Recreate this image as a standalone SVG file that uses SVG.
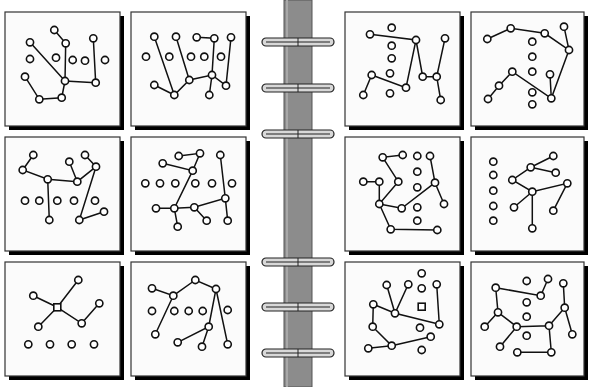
<svg xmlns="http://www.w3.org/2000/svg" width="592" height="387" viewBox="0 0 592 387">
<style>
.shadow{fill:#000}
.panel{fill:#fbfbfb;stroke:#333;stroke-width:1.2}
.e{stroke:#111;stroke-width:1.5;fill:none}
.n{fill:#fff;stroke:#111;stroke-width:1.6}
.ring{fill:#d8d8d8;stroke:#222;stroke-width:1.2}
.ringl{stroke:#222;stroke-width:1;fill:none}
</style>
<defs>
<g id="ringshape">
<rect class="ring" x="262" y="-4" width="72" height="8" rx="4"/>
<line class="ringl" x1="266" y1="0" x2="330" y2="0" stroke="#fff"/>
<line class="ringl" x1="298" y1="-4" x2="298" y2="4"/>
</g>
</defs>
<rect width="592" height="387" fill="#fff"/>

<g id="spine">
<rect x="284" y="0" width="28" height="387" fill="#8c8c8c" stroke="#555" stroke-width="1"/>
<line x1="287" y1="0" x2="287" y2="387" stroke="#a8a8a8" stroke-width="2"/>
<use href="#ringshape" y="42"/>
<use href="#ringshape" y="88"/>
<use href="#ringshape" y="134"/>
<use href="#ringshape" y="262"/>
<use href="#ringshape" y="307"/>
<use href="#ringshape" y="353"/>
</g>

<g id="panels">
<rect class="shadow" x="9" y="16" width="115" height="114"/><rect class="panel" x="5" y="12" width="115" height="114"/>
<rect class="shadow" x="135" y="16" width="115" height="114"/><rect class="panel" x="131" y="12" width="115" height="114"/>
<rect class="shadow" x="349" y="16" width="115" height="114"/><rect class="panel" x="345" y="12" width="115" height="114"/>
<rect class="shadow" x="475" y="16" width="113" height="114"/><rect class="panel" x="471" y="12" width="113" height="114"/>
<rect class="shadow" x="9" y="141" width="115" height="114"/><rect class="panel" x="5" y="137" width="115" height="114"/>
<rect class="shadow" x="135" y="141" width="115" height="114"/><rect class="panel" x="131" y="137" width="115" height="114"/>
<rect class="shadow" x="349" y="141" width="115" height="114"/><rect class="panel" x="345" y="137" width="115" height="114"/>
<rect class="shadow" x="475" y="141" width="113" height="114"/><rect class="panel" x="471" y="137" width="113" height="114"/>
<rect class="shadow" x="9" y="266" width="115" height="114"/><rect class="panel" x="5" y="262" width="115" height="114"/>
<rect class="shadow" x="135" y="266" width="115" height="114"/><rect class="panel" x="131" y="262" width="115" height="114"/>
<rect class="shadow" x="349" y="266" width="115" height="114"/><rect class="panel" x="345" y="262" width="115" height="114"/>
<rect class="shadow" x="475" y="266" width="113" height="114"/><rect class="panel" x="471" y="262" width="113" height="114"/>
</g>

<g id="connectors">
<path class="e" d="M54.3,30L65.7,43.3L65,81M30,42.3L65,81M93.3,38.3L95.7,82.7M65,81L95.7,82.7M65,81L61.7,97.7L39.3,99.3L25,76.7"/>
<path class="e" d="M196.7,37.3L214.3,38.3L212,75M154.3,36.7L174.3,95M176,36.7L189.3,80M231,37.3L226,85.7M154.3,85L174.3,95L189.3,80L212,75L226,85.7M212,75L209.3,95"/>
<path class="e" d="M370,34.3L416,40L406,87.7L371.7,75L363.3,95M416,40L422.7,76.7L436.7,76.7L445,38.3M436.7,76.7L440.7,100"/>
<path class="e" d="M487.3,39L510.7,28.3L544.7,33.3L569,50L564,26.7M569,50L551.3,98.3L512.3,71.7L499,85.7L488,99M550,74.3L551.3,98.3"/>
<path class="e" d="M33.3,155L22.7,170L47.7,179.3L77.3,181.7L96,166.7L85,155M69.3,161.7L77.3,181.7M47.7,179.3L49.3,220M96,166.7L79.3,220L104,211.7"/>
<path class="e" d="M178.7,156L200,153.3L192.7,170.7L162.7,163.3M192.7,170.7L174.3,208.3L156,208.3M174.3,208.3L177.7,226.7M174.3,208.3L194.3,207.3L225.3,198.3L220.3,155M194.3,207.3L206.7,220.7M225.3,198.3L227.7,220.7"/>
<path class="e" d="M402.7,155L382.7,157.3L398.3,181.7L379.3,204L379.3,181.7L363.3,181.7M379.3,204L401.7,208.3L435,182.7L430,156M435,182.7L444,204M379.3,204L390.7,229.3L437.3,230"/>
<path class="e" d="M553.3,156L530.7,167.3L555.7,172.7M530.7,167.3L512.3,180L532.3,191.7L567.3,183.3L553.3,210.7M532.3,191.7L514,207.3M532.3,191.7L532.3,228.3"/>
<path class="e" d="M57.3,307.3L78.3,280M57.3,307.3L33.3,295.7M57.3,307.3L38.3,326.7M57.3,307.3L81.7,323.3L99.3,303.3"/>
<path class="e" d="M152,288.3L173.3,295.7L195.3,280L216,289L208.7,326.7L177.7,342.3M173.3,295.7L155.3,334.3M216,289L227.7,344.3M208.7,326.7L202,346.7"/>
<path class="e" d="M386.7,285L395,313.3L408.3,284.3M373.3,304.3L395,313.3L439.3,324.3L436.7,284.3M373.3,304.3L372.7,326.7L391.7,345.7L368.3,348.3M391.7,345.7L430.7,336.7"/>
<path class="e" d="M548,279L540.7,295.7L495.7,287.7L498,312.3L516.7,326.7L549,325.7L564.7,307.7L563.3,283.3M498,312.3L484.7,326.7M516.7,326.7L500,346.7M564.7,307.7L572.3,334.3M549,325.7L551.3,352.3L517.3,352.3"/>
</g>

<g id="nodes">
<g id="p1">
<circle class="n" cx="54.3" cy="30" r="3.6"/><circle class="n" cx="30" cy="42.3" r="3.6"/><circle class="n" cx="65.7" cy="43.3" r="3.6"/><circle class="n" cx="93.3" cy="38.3" r="3.6"/><circle class="n" cx="30" cy="59" r="3.6"/><circle class="n" cx="56" cy="57.7" r="3.6"/><circle class="n" cx="72.7" cy="60" r="3.6"/><circle class="n" cx="85" cy="60.7" r="3.6"/><circle class="n" cx="105" cy="60" r="3.6"/><circle class="n" cx="25" cy="76.7" r="3.6"/><circle class="n" cx="65" cy="81" r="3.6"/><circle class="n" cx="95.7" cy="82.7" r="3.6"/><circle class="n" cx="39.3" cy="99.3" r="3.6"/><circle class="n" cx="61.7" cy="97.7" r="3.6"/>
</g>
<g id="p2">
<circle class="n" cx="154.3" cy="36.7" r="3.6"/><circle class="n" cx="176" cy="36.7" r="3.6"/><circle class="n" cx="196.7" cy="37.3" r="3.6"/><circle class="n" cx="214.3" cy="38.3" r="3.6"/><circle class="n" cx="231" cy="37.3" r="3.6"/><circle class="n" cx="146" cy="56.7" r="3.6"/><circle class="n" cx="169.3" cy="56.7" r="3.6"/><circle class="n" cx="191" cy="56.7" r="3.6"/><circle class="n" cx="204.3" cy="56.7" r="3.6"/><circle class="n" cx="221" cy="56.7" r="3.6"/><circle class="n" cx="154.3" cy="85" r="3.6"/><circle class="n" cx="189.3" cy="80" r="3.6"/><circle class="n" cx="212" cy="75" r="3.6"/><circle class="n" cx="226" cy="85.7" r="3.6"/><circle class="n" cx="174.3" cy="95" r="3.6"/><circle class="n" cx="209.3" cy="95" r="3.6"/>
</g>
<g id="p3">
<circle class="n" cx="391.7" cy="27.7" r="3.6"/><circle class="n" cx="370" cy="34.3" r="3.6"/><circle class="n" cx="416" cy="40" r="3.6"/><circle class="n" cx="445" cy="38.3" r="3.6"/><circle class="n" cx="391.7" cy="45.7" r="3.6"/><circle class="n" cx="391.7" cy="58.3" r="3.6"/><circle class="n" cx="390" cy="73.3" r="3.6"/><circle class="n" cx="371.7" cy="75" r="3.6"/><circle class="n" cx="422.7" cy="76.7" r="3.6"/><circle class="n" cx="436.7" cy="76.7" r="3.6"/><circle class="n" cx="406" cy="87.7" r="3.6"/><circle class="n" cx="363.3" cy="95" r="3.6"/><circle class="n" cx="390" cy="93.3" r="3.6"/><circle class="n" cx="440.7" cy="100" r="3.6"/>
</g>
<g id="p4">
<circle class="n" cx="487.3" cy="39" r="3.6"/><circle class="n" cx="510.7" cy="28.3" r="3.6"/><circle class="n" cx="544.7" cy="33.3" r="3.6"/><circle class="n" cx="564" cy="26.7" r="3.6"/><circle class="n" cx="569" cy="50" r="3.6"/><circle class="n" cx="532.3" cy="41.7" r="3.6"/><circle class="n" cx="532.3" cy="56.7" r="3.6"/><circle class="n" cx="532.3" cy="71.7" r="3.6"/><circle class="n" cx="512.3" cy="71.7" r="3.6"/><circle class="n" cx="550" cy="74.3" r="3.6"/><circle class="n" cx="499" cy="85.7" r="3.6"/><circle class="n" cx="532.3" cy="92.3" r="3.6"/><circle class="n" cx="551.3" cy="98.3" r="3.6"/><circle class="n" cx="488" cy="99" r="3.6"/><circle class="n" cx="532.3" cy="104.3" r="3.6"/>
</g>
<g id="p5">
<circle class="n" cx="33.3" cy="155" r="3.6"/><circle class="n" cx="22.7" cy="170" r="3.6"/><circle class="n" cx="47.7" cy="179.3" r="3.6"/><circle class="n" cx="69.3" cy="161.7" r="3.6"/><circle class="n" cx="85" cy="155" r="3.6"/><circle class="n" cx="96" cy="166.7" r="3.6"/><circle class="n" cx="77.3" cy="181.7" r="3.6"/><circle class="n" cx="25" cy="200.7" r="3.6"/><circle class="n" cx="39.3" cy="200.7" r="3.6"/><circle class="n" cx="57.3" cy="200.7" r="3.6"/><circle class="n" cx="74" cy="200.7" r="3.6"/><circle class="n" cx="95" cy="200.7" r="3.6"/><circle class="n" cx="49.3" cy="220" r="3.6"/><circle class="n" cx="79.3" cy="220" r="3.6"/><circle class="n" cx="104" cy="211.7" r="3.6"/>
</g>
<g id="p6">
<circle class="n" cx="178.7" cy="156" r="3.6"/><circle class="n" cx="200" cy="153.3" r="3.6"/><circle class="n" cx="162.7" cy="163.3" r="3.6"/><circle class="n" cx="192.7" cy="170.7" r="3.6"/><circle class="n" cx="220.3" cy="155" r="3.6"/><circle class="n" cx="145.3" cy="183.3" r="3.6"/><circle class="n" cx="160" cy="183.3" r="3.6"/><circle class="n" cx="175.3" cy="183.3" r="3.6"/><circle class="n" cx="195.3" cy="183.3" r="3.6"/><circle class="n" cx="212" cy="183.3" r="3.6"/><circle class="n" cx="232" cy="183.3" r="3.6"/><circle class="n" cx="225.3" cy="198.3" r="3.6"/><circle class="n" cx="156" cy="208.3" r="3.6"/><circle class="n" cx="174.3" cy="208.3" r="3.6"/><circle class="n" cx="194.3" cy="207.3" r="3.6"/><circle class="n" cx="206.7" cy="220.7" r="3.6"/><circle class="n" cx="227.7" cy="220.7" r="3.6"/><circle class="n" cx="177.7" cy="226.7" r="3.6"/>
</g>
<g id="p7">
<circle class="n" cx="382.7" cy="157.3" r="3.6"/><circle class="n" cx="402.7" cy="155" r="3.6"/><circle class="n" cx="417.3" cy="156" r="3.6"/><circle class="n" cx="430" cy="156" r="3.6"/><circle class="n" cx="417.3" cy="171.7" r="3.6"/><circle class="n" cx="363.3" cy="181.7" r="3.6"/><circle class="n" cx="379.3" cy="181.7" r="3.6"/><circle class="n" cx="398.3" cy="181.7" r="3.6"/><circle class="n" cx="417.3" cy="187.3" r="3.6"/><circle class="n" cx="435" cy="182.7" r="3.6"/><circle class="n" cx="379.3" cy="204" r="3.6"/><circle class="n" cx="401.7" cy="208.3" r="3.6"/><circle class="n" cx="417.3" cy="207.3" r="3.6"/><circle class="n" cx="444" cy="204" r="3.6"/><circle class="n" cx="417.3" cy="220.7" r="3.6"/><circle class="n" cx="390.7" cy="229.3" r="3.6"/><circle class="n" cx="437.3" cy="230" r="3.6"/>
</g>
<g id="p8">
<circle class="n" cx="493.3" cy="161.7" r="3.6"/><circle class="n" cx="493.3" cy="175" r="3.6"/><circle class="n" cx="493.3" cy="190.7" r="3.6"/><circle class="n" cx="493.3" cy="206" r="3.6"/><circle class="n" cx="493.3" cy="220.7" r="3.6"/><circle class="n" cx="553.3" cy="156" r="3.6"/><circle class="n" cx="530.7" cy="167.3" r="3.6"/><circle class="n" cx="555.7" cy="172.7" r="3.6"/><circle class="n" cx="512.3" cy="180" r="3.6"/><circle class="n" cx="567.3" cy="183.3" r="3.6"/><circle class="n" cx="532.3" cy="191.7" r="3.6"/><circle class="n" cx="514" cy="207.3" r="3.6"/><circle class="n" cx="553.3" cy="210.7" r="3.6"/><circle class="n" cx="532.3" cy="228.3" r="3.6"/>
</g>
<g id="p9">
<circle class="n" cx="78.3" cy="280" r="3.6"/><circle class="n" cx="33.3" cy="295.7" r="3.6"/><rect class="n" x="53.8" y="303.8" width="7" height="7"/><circle class="n" cx="99.3" cy="303.3" r="3.6"/><circle class="n" cx="81.7" cy="323.3" r="3.6"/><circle class="n" cx="38.3" cy="326.7" r="3.6"/><circle class="n" cx="28.3" cy="344.3" r="3.6"/><circle class="n" cx="50" cy="344.3" r="3.6"/><circle class="n" cx="71.7" cy="344.3" r="3.6"/><circle class="n" cx="94" cy="344.3" r="3.6"/>
</g>
<g id="p10">
<circle class="n" cx="152" cy="288.3" r="3.6"/><circle class="n" cx="173.3" cy="295.7" r="3.6"/><circle class="n" cx="195.3" cy="280" r="3.6"/><circle class="n" cx="216" cy="289" r="3.6"/><circle class="n" cx="152" cy="311" r="3.6"/><circle class="n" cx="174.3" cy="311" r="3.6"/><circle class="n" cx="188.7" cy="311" r="3.6"/><circle class="n" cx="202.7" cy="311" r="3.6"/><circle class="n" cx="227.7" cy="310" r="3.6"/><circle class="n" cx="208.7" cy="326.7" r="3.6"/><circle class="n" cx="155.3" cy="334.3" r="3.6"/><circle class="n" cx="177.7" cy="342.3" r="3.6"/><circle class="n" cx="202" cy="346.7" r="3.6"/><circle class="n" cx="227.7" cy="344.3" r="3.6"/>
</g>
<g id="p11">
<circle class="n" cx="421.7" cy="273.3" r="3.6"/><circle class="n" cx="386.7" cy="285" r="3.6"/><circle class="n" cx="408.3" cy="284.3" r="3.6"/><circle class="n" cx="421.7" cy="288.3" r="3.6"/><circle class="n" cx="436.7" cy="284.3" r="3.6"/><circle class="n" cx="373.3" cy="304.3" r="3.6"/><rect class="n" x="418.2" y="303.2" width="7" height="7"/><circle class="n" cx="395" cy="313.3" r="3.6"/><circle class="n" cx="439.3" cy="324.3" r="3.6"/><circle class="n" cx="372.7" cy="326.7" r="3.6"/><circle class="n" cx="420" cy="327.7" r="3.6"/><circle class="n" cx="430.7" cy="336.7" r="3.6"/><circle class="n" cx="368.3" cy="348.3" r="3.6"/><circle class="n" cx="391.7" cy="345.7" r="3.6"/><circle class="n" cx="421.7" cy="350" r="3.6"/>
</g>
<g id="p12">
<circle class="n" cx="526.7" cy="281" r="3.6"/><circle class="n" cx="548" cy="279" r="3.6"/><circle class="n" cx="563.3" cy="283.3" r="3.6"/><circle class="n" cx="495.7" cy="287.7" r="3.6"/><circle class="n" cx="540.7" cy="295.7" r="3.6"/><circle class="n" cx="526.7" cy="302.3" r="3.6"/><circle class="n" cx="564.7" cy="307.7" r="3.6"/><circle class="n" cx="498" cy="312.3" r="3.6"/><circle class="n" cx="526.7" cy="316.7" r="3.6"/><circle class="n" cx="484.7" cy="326.7" r="3.6"/><circle class="n" cx="516.7" cy="326.7" r="3.6"/><circle class="n" cx="549" cy="325.7" r="3.6"/><circle class="n" cx="526.7" cy="335.7" r="3.6"/><circle class="n" cx="572.3" cy="334.3" r="3.6"/><circle class="n" cx="500" cy="346.7" r="3.6"/><circle class="n" cx="517.3" cy="352.3" r="3.6"/><circle class="n" cx="551.3" cy="352.3" r="3.6"/>
</g>
</g>
</svg>
